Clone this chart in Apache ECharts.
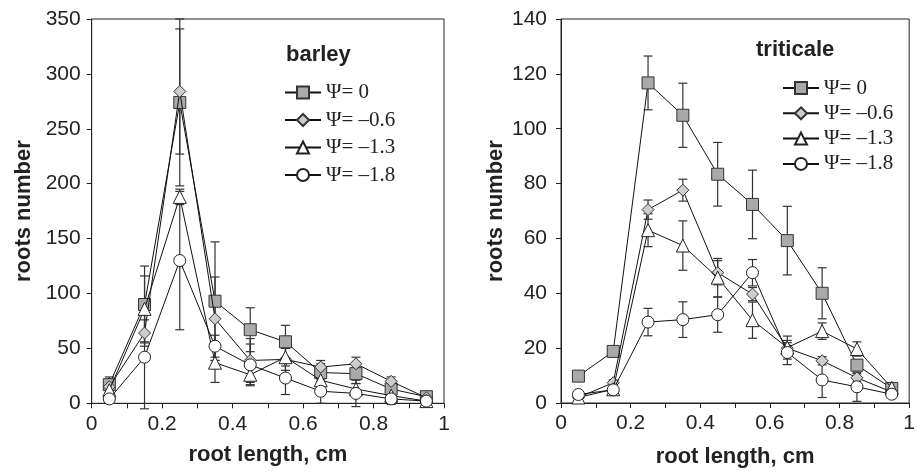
<!DOCTYPE html>
<html>
<head>
<meta charset="utf-8">
<script src="https://cdn.jsdelivr.net/npm/echarts@6/dist/echarts.min.js"></script>
<style>html,body{margin:0;padding:0;background:#fff}#c{width:918px;height:473px}</style>
</head>
<body>
<div id="c"></div>
<script>
// ---- data ----
const xs = [0.05, 0.15, 0.25, 0.35, 0.45, 0.55, 0.65, 0.75, 0.85, 0.95];
const seriesNames = ['Ψ= 0', 'Ψ= –0.6', 'Ψ= –1.3', 'Ψ= –1.8'];
const xTickLabels = ['0', '0.2', '0.4', '0.6', '0.8', '1'];
const barleyTitle = 'barley';
const triticaleTitle = 'triticale';

const barley0   = [17, 90, 274, 93, 67, 56, 28, 27, 13, 6];
const barley0e  = [7, 35, 76, 54, 20, 15, 8, 9, 6, 2];
const barley06  = [15, 64, 284, 77, 39, 40, 33, 36, 20, 5];
const barley06e = [5, 12, 57, 38, 20, 10, 6, 6, 4, 2];
const barley13  = [12, 86, 188, 37, 26, 42, 21, 13, 7, 2];
const barley13e = [4, 30, 7, 18, 9, 8, 6, 5, 3, 1];
const barley18  = [4, 42, 130, 52, 35, 23, 11, 9, 4, 2];
const barley18e = [3, 47, 63, 10, 19, 15, 11, 12, 5, 2];

const trit0   = [9.8, 18.8, 116.7, 104.9, 83.4, 72.4, 59.2, 40, 13.8, 5.3];
const trit0e  = [0.5, 1, 9.8, 11.7, 11.6, 12.5, 12.5, 9.3, 2, 1];
const trit06  = [2, 7.4, 70.5, 77.6, 47.5, 39.7, 20, 15.4, 9.2, 4];
const trit06e = [0.5, 1, 3.5, 4, 4.4, 2.4, 2, 1.5, 1.5, 1];
const trit13  = [2, 5, 63, 57.4, 45.7, 30.2, 20.2, 26.2, 19.7, 5.5];
const trit13e = [0.5, 1, 6, 9, 7, 6.6, 4.2, 3, 2.6, 1];
const trit18  = [3.1, 4.8, 29.5, 30.4, 32.2, 47.5, 18.4, 8.4, 5.9, 3.2];
const trit18e = [0.5, 0.5, 5, 6.5, 6.4, 4.8, 4.4, 6.4, 5.3, 1];

// ---- styles ----
const SANS = 'Liberation Sans';
const SERIF = 'Liberation Serif';
const TXT = '#222';
const markers = [
  {symbol: 'rect', size: 12, fill: '#a9a9a9', border: '#333'},
  {symbol: 'diamond', size: 12, fill: '#cdcdcd', border: '#333'},
  {symbol: 'triangle', size: 13, fill: '#ffffff', border: '#222'},
  {symbol: 'circle', size: 12, fill: '#ffffff', border: '#222'}
];

function xAxisFor(gi, nameGap) {
  return {
    type: 'value', gridIndex: gi, min: 0, max: 1, interval: 0.1,
    name: 'root length, cm', nameLocation: 'middle', nameGap: nameGap,
    nameTextStyle: {fontFamily: SANS, fontWeight: 'bold', fontSize: 22, color: TXT},
    axisLine: {show: true, lineStyle: {color: '#222', width: 1}},
    axisTick: {show: true, length: 5, lineStyle: {color: '#222'}},
    splitLine: {show: false},
    axisLabel: {
      fontFamily: SANS, fontSize: 21, color: TXT, margin: 10,
      formatter: function (v) {
        const k = Math.round(v * 10);
        return k % 2 === 0 ? xTickLabels[k / 2] : '';
      }
    }
  };
}
function yAxisFor(gi, max, interval, nameGap, margin) {
  return {
    type: 'value', gridIndex: gi, min: 0, max: max, interval: interval,
    name: 'roots number', nameLocation: 'middle', nameGap: nameGap, nameRotate: 90,
    nameTextStyle: {fontFamily: SANS, fontWeight: 'bold', fontSize: 22, color: TXT},
    axisLine: {show: true, lineStyle: {color: '#222', width: 1}},
    axisTick: {show: true, length: 5, lineStyle: {color: '#222'}},
    splitLine: {show: false},
    axisLabel: {fontFamily: SANS, fontSize: 21, color: TXT, margin: margin}
  };
}

function lineSeries(gi, idx, vals) {
  const m = markers[idx];
  return {
    type: 'line', name: seriesNames[idx], xAxisIndex: gi, yAxisIndex: gi,
    data: xs.map((x, i) => [x, vals[i]]),
    symbol: m.symbol, symbolSize: m.size, showAllSymbol: true,
    lineStyle: {color: '#111', width: 1},
    itemStyle: {color: m.fill, borderColor: m.border, borderWidth: 1, opacity: 1},
    z: 3 + idx, animation: false, silent: true
  };
}
function errSeries(gi, vals, errs) {
  return {
    type: 'custom', xAxisIndex: gi, yAxisIndex: gi, z: 2, silent: true,
    animation: false,
    data: xs.map((x, i) => [x, vals[i], errs[i]]),
    encode: {x: 0, y: 1},
    renderItem: function (params, api) {
      const x = api.value(0), y = api.value(1), e = api.value(2);
      const t = api.coord([x, y + e]);
      const b = api.coord([x, y - e]);
      const hw = 4.5;
      const st = {stroke: '#333', lineWidth: 1.2};
      return {
        type: 'group', children: [
          {type: 'line', shape: {x1: t[0], y1: t[1], x2: b[0], y2: b[1]}, style: st},
          {type: 'line', shape: {x1: t[0] - hw, y1: t[1], x2: t[0] + hw, y2: t[1]}, style: st},
          {type: 'line', shape: {x1: b[0] - hw, y1: b[1], x2: b[0] + hw, y2: b[1]}, style: st}
        ]
      };
    }
  };
}

const barleySets = [[barley0, barley0e], [barley06, barley06e], [barley13, barley13e], [barley18, barley18e]];
const tritSets = [[trit0, trit0e], [trit06, trit06e], [trit13, trit13e], [trit18, trit18e]];

const series = [];
barleySets.forEach((s) => series.push(errSeries(0, s[0], s[1])));
tritSets.forEach((s) => series.push(errSeries(1, s[0], s[1])));
barleySets.forEach((s, i) => series.push(lineSeries(0, i, s[0])));
tritSets.forEach((s, i) => series.push(lineSeries(1, i, s[0])));

const legendBase = {
  orient: 'vertical', padding: 0, itemWidth: 36, itemHeight: 15,
  selectedMode: false,
  textStyle: {fontFamily: SERIF, fontSize: 21, color: TXT, lineHeight: 21},
  data: seriesNames
};

const option = {
  backgroundColor: '#fff',
  animation: false,
  title: [
    {text: barleyTitle, left: 286, top: 43, padding: 0,
     textStyle: {fontFamily: SANS, fontWeight: 'bold', fontSize: 22, color: TXT, lineHeight: 24}},
    {text: triticaleTitle, left: 756, top: 38, padding: 0,
     textStyle: {fontFamily: SANS, fontWeight: 'bold', fontSize: 22, color: TXT, lineHeight: 24}}
  ],
  legend: [
    Object.assign({}, legendBase, {left: 284, top: 82, itemGap: 6.5}),
    Object.assign({}, legendBase, {left: 782, top: 77.5, itemGap: 4.3})
  ],
  grid: [
    {left: 91.7, right: 474, top: 19, bottom: 69.7, show: true, borderColor: '#222', borderWidth: 1, containLabel: false},
    {left: 561, right: 8.7, top: 19, bottom: 64, show: true, borderColor: '#222', borderWidth: 1, containLabel: false}
  ],
  xAxis: [xAxisFor(0, 41), xAxisFor(1, 43)],
  yAxis: [yAxisFor(0, 350, 50, 57, 11), yAxisFor(1, 140, 20, 54, 14)],
  series: series
};

const chart = echarts.init(document.getElementById('c'), null, {renderer: 'canvas'});
chart.setOption(option);
</script>
</body>
</html>
